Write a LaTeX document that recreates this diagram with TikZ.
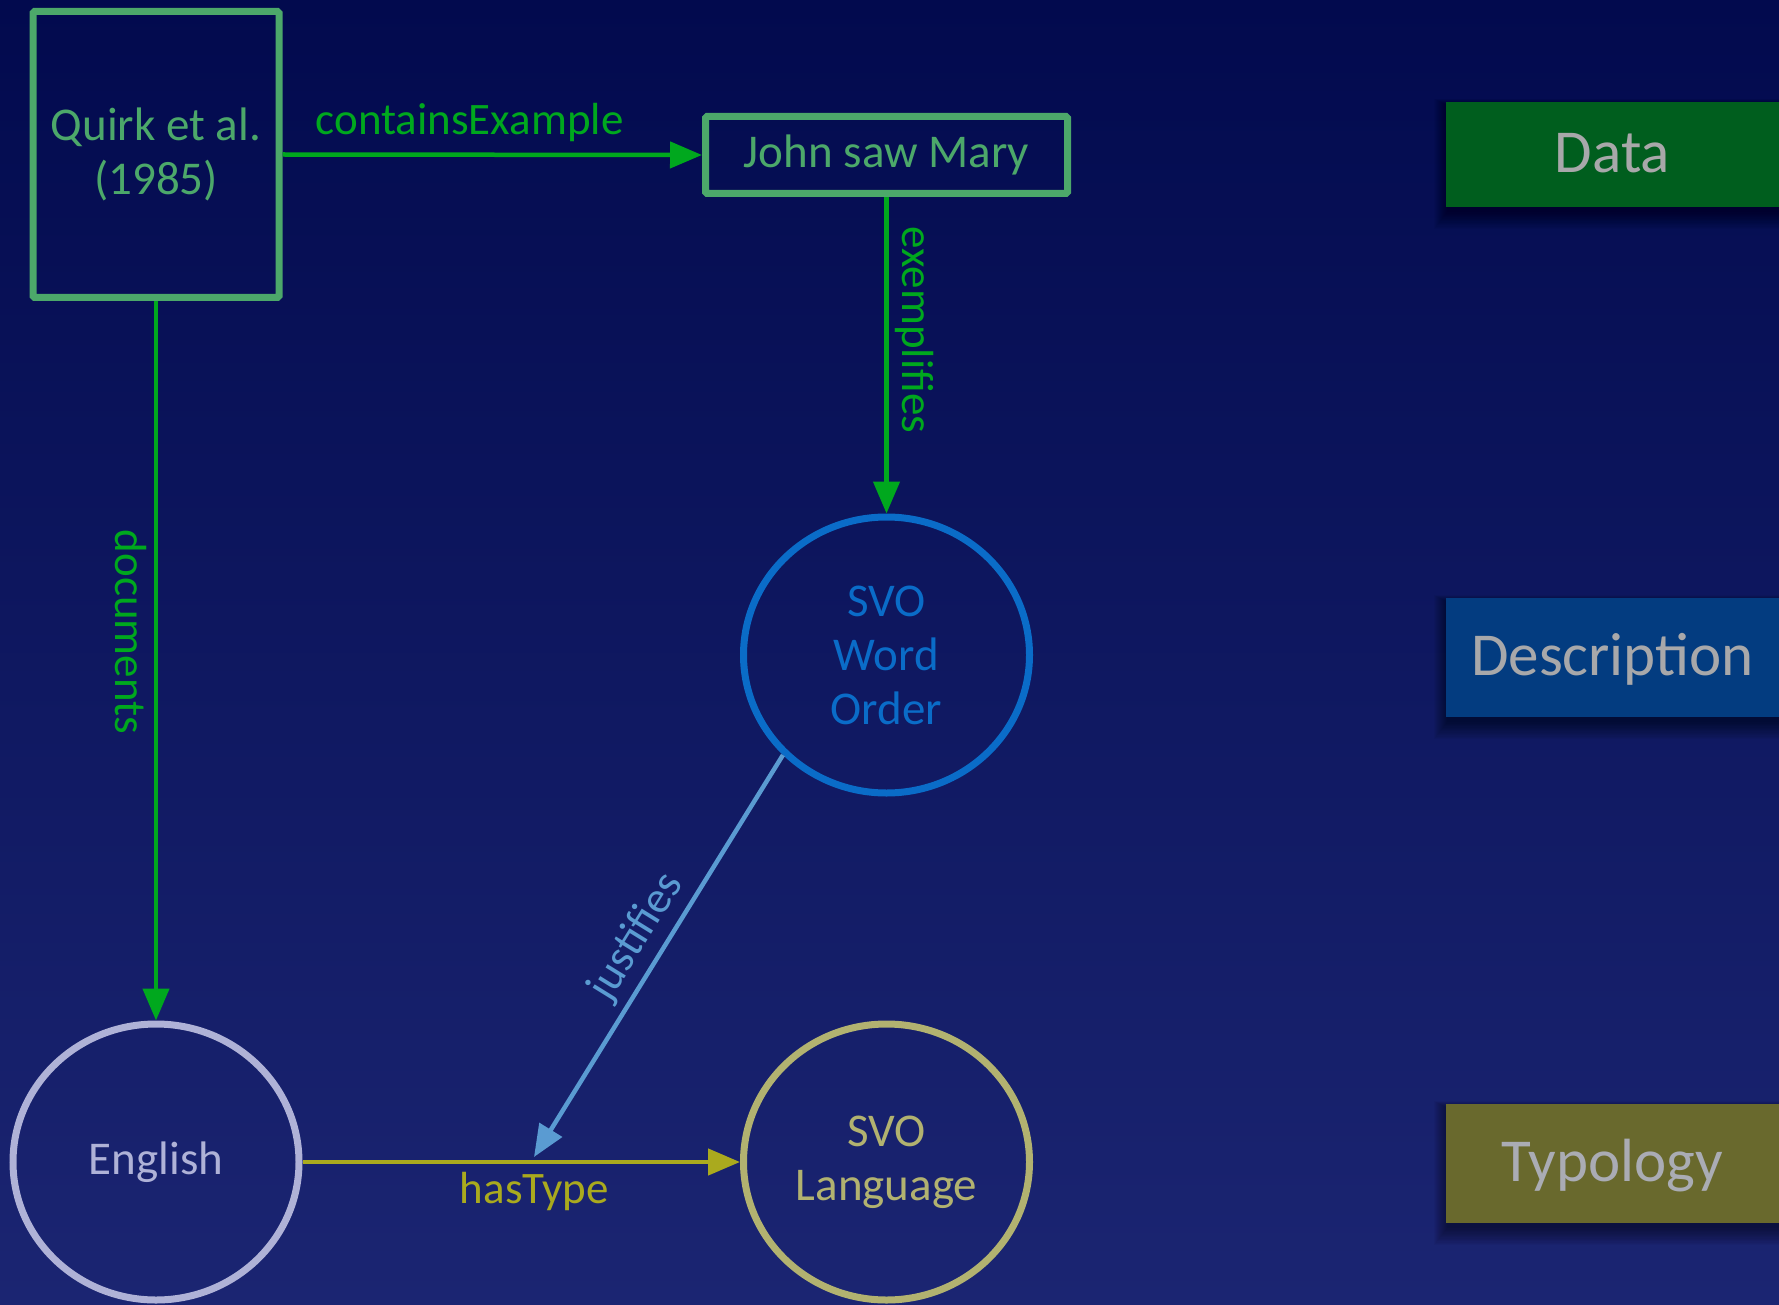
\documentclass[tikz,border=0pt]{standalone}
\usepackage{fontspec}
\setmainfont{Carlito}
\usetikzlibrary{arrows.meta,shapes.geometric}
\definecolor{bgtop}{RGB}{2,10,78}
\definecolor{bgbot}{RGB}{27,37,114}
\definecolor{boxgreen}{RGB}{76,168,106}
\definecolor{arrgreen}{RGB}{0,168,30}
\definecolor{woblue}{RGB}{10,108,200}
\definecolor{jublue}{RGB}{90,155,210}
\definecolor{englav}{RGB}{175,178,215}
\definecolor{htyellow}{RGB}{170,170,30}
\definecolor{svolkhaki}{RGB}{178,178,112}
\definecolor{datagreen}{RGB}{0,94,30}
\definecolor{descblue}{RGB}{3,60,128}
\definecolor{typolive}{RGB}{105,105,45}
\definecolor{bantext}{RGB}{168,168,170}
\newcommand\myNodeFont{\fontsize{47}{54}\selectfont}
\newcommand\myEdgeFont{\fontsize{45}{52}\selectfont}
\newcommand\myBannerFont{\fontsize{61}{70}\selectfont}
\begin{document}
\begin{tikzpicture}[x=1pt,y=-1pt,
  box/.style={draw=boxgreen, line width=7pt, text=boxgreen, inner sep=0pt,
    rounded corners=1.5pt, font=\myNodeFont, align=center},
  oval/.style={ellipse, line width=7pt, inner sep=0pt, minimum width=286pt,
    minimum height=276pt, font=\myNodeFont, align=center},
  conn/.style={line width=4.5pt, -{Triangle[length=32pt,width=26pt]}},
  elabel/.style={font=\myEdgeFont, inner sep=4pt},
  banner/.style={rectangle, inner sep=0pt, minimum width=333pt, text=bantext,
    font=\myBannerFont, text height=36pt, text depth=0pt}
]
\useasboundingbox (0,0) rectangle (1779,1305);
\shade[top color=bgtop, bottom color=bgbot] (0,0) rectangle (1779,1305);

% banner shadows
\foreach \ya/\yb in {102/207, 598/717, 1104/1223}{
  \foreach \i in {1,...,14}{
    \fill[black, opacity=0.035] ({1448-\i},{\ya+4-0.5*\i}) rectangle (1800,{\yb+4+1.3*\i});
  }
}

% banners
\node[banner, fill=datagreen, minimum height=105pt] (data) at (1612.5,154.5) {Data};
\node[banner, fill=descblue, minimum height=119pt] (desc) at (1612.5,657.5) {Description};
\node[banner, fill=typolive, minimum height=119pt, text={rgb,255:red,170;green,172;blue,180}] (typo) at (1612.5,1163.5) {Typology};

% nodes
\node[box, minimum width=246pt, minimum height=286pt] (quirk) at (156,154.5) {Quirk et al.\\(1985)};
\node[box, minimum width=362pt, minimum height=77pt] (jsm) at (886.5,155) {John saw Mary};
\node[oval, draw=woblue, text=woblue] (wo) at (886.5,655) {SVO\\Word\\Order};
\node[oval, draw=englav, text=englav] (eng) at (156,1162) {English};
\node[oval, draw=svolkhaki, text=svolkhaki] (svol) at (886.5,1162) {SVO\\Language};
\coordinate (jt) at (534,1157);

% connectors
\draw[conn, arrgreen] (quirk.east) -- node[elabel, above=7pt, pos=0.446, text=arrgreen] {containsExample} (jsm.west);
\draw[conn, arrgreen] (jsm.south) -- node[elabel, sloped, above=2pt, pos=0.42, text=arrgreen] {exemplifies} (wo.north);
\draw[conn, arrgreen] (quirk.south) -- node[elabel, sloped, below=3pt, pos=0.46, text=arrgreen] {documents} (eng.north);
\draw[conn, htyellow] (eng.east) -- node[elabel, below=4pt, pos=0.53, text=htyellow] {hasType} (svol.west);
\draw[conn, jublue] (wo.224) -- node[elabel, sloped, above=3pt, pos=0.49, text=jublue] {justifies} (jt);
\end{tikzpicture}
\end{document}
